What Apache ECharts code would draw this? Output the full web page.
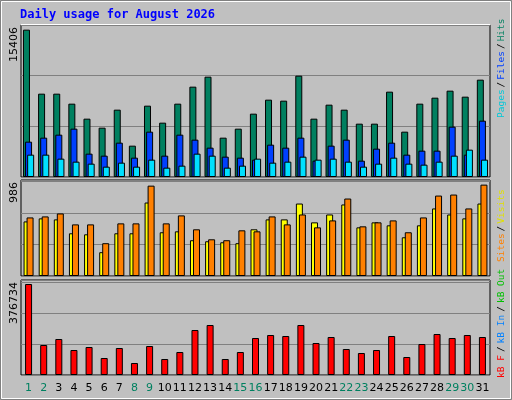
<!DOCTYPE html>
<html><head><meta charset="utf-8">
<script src="https://cdn.jsdelivr.net/npm/echarts@6/dist/echarts.min.js"></script>
<style>html,body{margin:0;padding:0;background:#c0c0c0}#c{width:512px;height:400px}</style>
</head><body><div id="c"></div>
<script>
const days = Array.from({length:31},(_,i)=>String(i+1));
const weekendDays = ['1','2','8','9','15','16','22','23','29','30'];
const hits = [15406,8714,8714,7668,6100,5159,7041,3276,7459,5681,7668,9446,10491,4113,5054,6622,8086,7982,10596,6100,7564,7041,5577,5577,8923,4740,7668,8295,9027,8400,10178];
const files = [3695,4113,4427,5054,2440,2231,3590,2022,4740,2231,4427,3904,3067,2126,2022,1812,3381,3067,4113,1708,3276,3904,1708,2963,3590,2335,2754,2754,5263,2335,5890];
const pages = [2335,2335,1917,1603,1394,1081,1499,1081,1812,976,1185,2440,2231,976,1185,1917,1499,1603,2126,1812,1917,1603,1081,1394,2022,1394,1290,1603,2231,2858,1812];
const sites = [589,622,611,461,450,257,461,461,793,472,482,386,375,364,354,504,611,611,782,579,664,772,525,579,547,418,547,729,664,622,782];
const visits = [632,643,675,557,557,354,568,568,975,568,654,504,396,386,493,482,643,557,664,525,600,836,536,579,600,472,632,868,879,729,986];
const kbF = [376734,124200,149040,103500,115920,70380,111780,49680,120060,66240,95220,186300,207000,66240,95220,153180,165600,161460,207000,132480,157320,107640,91080,103500,161460,74520,128340,169740,153180,165600,157320];
const maxLabels = ['15406','986','376734'];

const chart = echarts.init(document.getElementById('c'));
const grids = [
  {left:21,right:22,top:25,height:152},
  {left:21,right:22,top:180,height:96},
  {left:21,right:22,top:280,height:95}
];
const yMax=[15894,1036,393300], yInt=[5298,340,128000];
function xa(i){return {type:'category',gridIndex:i,data:days,axisTick:{show:false},axisLine:{show:false},
  axisLabel:{show:i===2,interval:0,margin:8,fontFamily:'DejaVu Sans',fontSize:11,
    color:(v)=>weekendDays.includes(v)?'#008060':'#000'}};}
function ya(i){return {type:'value',gridIndex:i,min:0,max:yMax[i],interval:yInt[i],axisLabel:{show:false},
  axisLine:{show:false},axisTick:{show:false},splitLine:{lineStyle:{color:'#808080',width:1}}};}
const bs={borderColor:'#000',borderWidth:1};
function bar(name,data,g,color,gap){return {name,type:'bar',xAxisIndex:g,yAxisIndex:g,data,barWidth:7,barGap:gap,
  itemStyle:Object.assign({color},bs),animation:false};}
const mono='DejaVu Sans Mono';
const f9='9.5px "'+mono+'"';
function st(c,p){return {fill:c,font:f9,padding:p||0};}
chart.setOption({
  backgroundColor:'#c0c0c0',animation:false,
  grid:grids.map(g=>Object.assign({show:true,backgroundColor:'#c0c0c0',borderColor:'#000',borderWidth:1},g)),
  xAxis:[xa(0),xa(1),xa(2)],yAxis:[ya(0),ya(1),ya(2)],
  series:[
    bar('Hits',hits,0,'#008060','-70%'),bar('Files',files,0,'#0040ff','-70%'),bar('Pages',pages,0,'#00e0ff','-70%'),
    bar('Sites',sites,1,'#ffff00','-57%'),bar('Visits',visits,1,'#ff8000','-57%'),
    bar('kB F',kbF,2,'#ff0000','0%')
  ],
  graphic:[
    {type:'rect',shape:{x:0.5,y:0.5,width:511,height:399},style:{fill:'none',stroke:'#808080',lineWidth:1}},
    {type:'rect',shape:{x:1.5,y:1.5,width:509,height:397},style:{fill:'none',stroke:'#ffffff',lineWidth:1}},
    {type:'line',shape:{x1:21,y1:24.5,x2:490,y2:24.5},style:{stroke:'#fff',lineWidth:1}},
    {type:'text',x:20,y:9,style:{text:'Daily usage for August 2026',fill:'#0000ff',font:'bold 12px "'+mono+'"'}},
    {type:'text',x:9,y:27,rotation:Math.PI/2,style:{text:maxLabels[0],fill:'#000',font:'11px "DejaVu Sans"',align:'right'}},
    {type:'text',x:9,y:182,rotation:Math.PI/2,style:{text:maxLabels[1],fill:'#000',font:'11px "DejaVu Sans"',align:'right'}},
    {type:'text',x:9,y:282,rotation:Math.PI/2,style:{text:maxLabels[2],fill:'#000',font:'11px "DejaVu Sans"',align:'right'}},
    {type:'text',x:497,y:118,rotation:Math.PI/2,style:{text:'{a|Pages}{s|/}{b|Files}{s|/}{c|Hits}',font:f9,
      rich:{a:st('#00c8d8'),b:st('#0040ff'),c:st('#008060'),s:st('#000',[0,2])}}},
    {type:'text',x:497,y:262,rotation:Math.PI/2,style:{text:'{a|Sites}{s|/}{b|Visits}',font:f9,
      rich:{a:st('#ff8000'),b:st('#e0e000'),s:st('#000',[0,2])}}},
    {type:'text',x:497,y:378,rotation:Math.PI/2,style:{text:'{a|kB F}{s|/}{b|kB In}{s|/}{c|kB Out}',font:f9,
      rich:{a:st('#ff0000'),b:st('#0080ff'),c:st('#00c000'),s:st('#000',[0,3])}}}
  ]
});
</script></body></html>
